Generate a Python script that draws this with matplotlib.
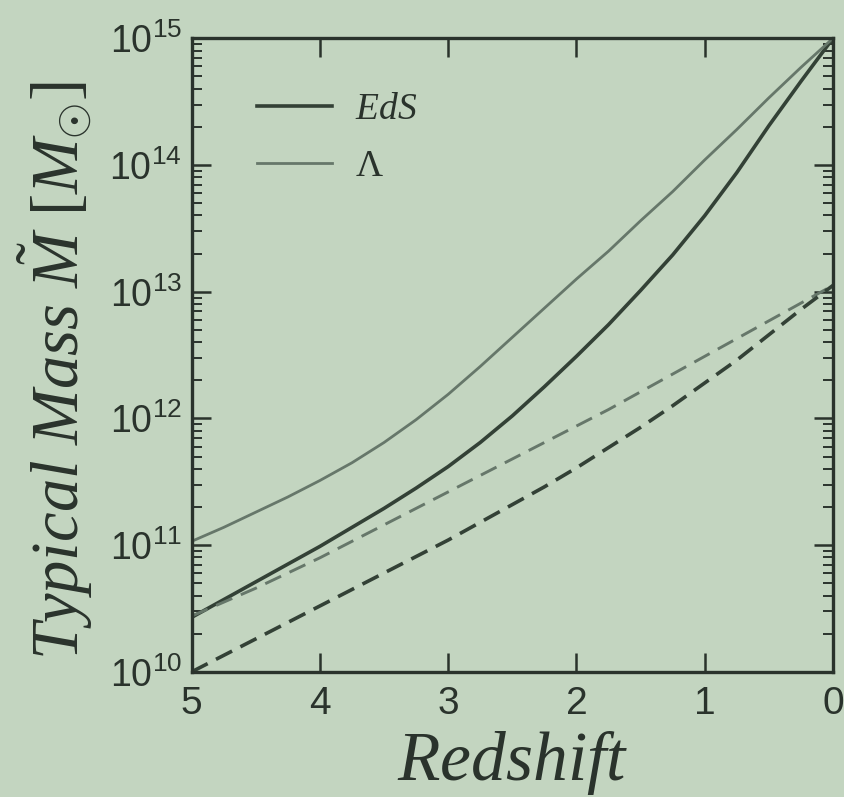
import numpy as np
import matplotlib
matplotlib.use("Agg")
from matplotlib import pyplot as plt
from matplotlib.ticker import FixedLocator, LogLocator, FuncFormatter, NullFormatter

# redshift grid and log10 of the typical mass
z = [5.0, 4.75, 4.5, 4.25, 4.0, 3.75, 3.5, 3.25, 3.0, 2.75, 2.5,
     2.25, 2.0, 1.75, 1.5, 1.25, 1.0, 0.75, 0.5, 0.25, 0.0]
eds_solid = [10.43, 10.57, 10.71, 10.85, 10.99, 11.14, 11.29, 11.45, 11.62, 11.81, 12.02,
             12.25, 12.49, 12.74, 13.01, 13.29, 13.60, 13.94, 14.31, 14.66, 15.00]
lam_solid = [11.03, 11.14, 11.26, 11.38, 11.51, 11.65, 11.81, 11.99, 12.19, 12.41, 12.64,
             12.87, 13.10, 13.32, 13.56, 13.79, 14.04, 14.28, 14.53, 14.77, 15.00]
lam_dash = [10.44, 10.55, 10.66, 10.78, 10.90, 11.03, 11.16, 11.29, 11.42, 11.55, 11.68,
            11.81, 11.94, 12.07, 12.21, 12.35, 12.49, 12.63, 12.77, 12.91, 13.05]
eds_dash = [10.00, 10.13, 10.26, 10.39, 10.52, 10.65, 10.78, 10.91, 11.04, 11.18, 11.32,
            11.46, 11.61, 11.77, 11.93, 12.10, 12.28, 12.46, 12.66, 12.86, 13.05]

xticks = [5, 4, 3, 2, 1, 0]

plt.rcParams['mathtext.fontset'] = 'custom'
plt.rcParams['mathtext.rm'] = 'Liberation Serif'
plt.rcParams['mathtext.it'] = 'Liberation Serif:italic'
plt.rcParams['mathtext.sf'] = 'Liberation Sans'

BG = '#c3d5c0'
DARK = '#334136'
LIGHT = '#66776a'
INK = '#2a332c'

fig = plt.figure(figsize=(8.44, 7.97), dpi=100, facecolor=BG)
ax = fig.add_axes([0.227, 0.157, 0.760, 0.795])
ax.set_facecolor(BG)

zz = np.array(z)
ax.plot(zz, 10 ** np.array(eds_solid), color=DARK, lw=2.6, label=r'$EdS$')
ax.plot(zz, 10 ** np.array(lam_solid), color=LIGHT, lw=2.0, label=r'$\Lambda$')
ax.plot(zz, 10 ** np.array(lam_dash), color=LIGHT, lw=2.1, dashes=(6, 3.2))
ax.plot(zz, 10 ** np.array(eds_dash), color=DARK, lw=2.6, dashes=(5, 2.6))

ax.set_yscale('log')
ax.set_xlim(5, 0)
ax.set_ylim(1e10, 1e15)

ax.xaxis.set_major_locator(FixedLocator(xticks))
ax.set_xticklabels([str(t) for t in xticks], fontfamily='Liberation Sans', fontsize=28, color=INK)
ax.yaxis.set_major_locator(LogLocator(base=10, numticks=10))
ax.yaxis.set_minor_locator(LogLocator(base=10, subs=np.arange(2, 10), numticks=20))
ax.yaxis.set_major_formatter(FuncFormatter(lambda v, p: r'$\mathsf{10^{%d}}$' % round(np.log10(v))))
ax.yaxis.set_minor_formatter(NullFormatter())
for lab in ax.get_yticklabels():
    lab.set_fontsize(27)
    lab.set_color(INK)

ax.tick_params(which='both', direction='in', top=True, right=True, color=INK, width=1.8)
ax.tick_params(which='major', length=14)
ax.tick_params(which='minor', length=7, width=1.4)
ax.tick_params(axis='x', pad=10)
ax.tick_params(axis='y', pad=7)
for s in ax.spines.values():
    s.set_linewidth(2.4)
    s.set_color(INK)

ax.set_xlabel(r'$Redshift$', fontsize=50, color=INK, labelpad=5)
ax.set_ylabel(r'$Typical\ Mass\ \tilde{M}\ [M_{\odot}]$', fontsize=48, color=INK)
ax.yaxis.set_label_coords(-0.15, 0.475)

leg = ax.legend(loc='upper left', bbox_to_anchor=(0.05, 0.97), frameon=False, fontsize=27,
                handlelength=2.0, handletextpad=0.6, labelspacing=0.55)
for t in leg.get_texts():
    t.set_color(INK)

fig.savefig('out.png', dpi=100, facecolor=BG)
